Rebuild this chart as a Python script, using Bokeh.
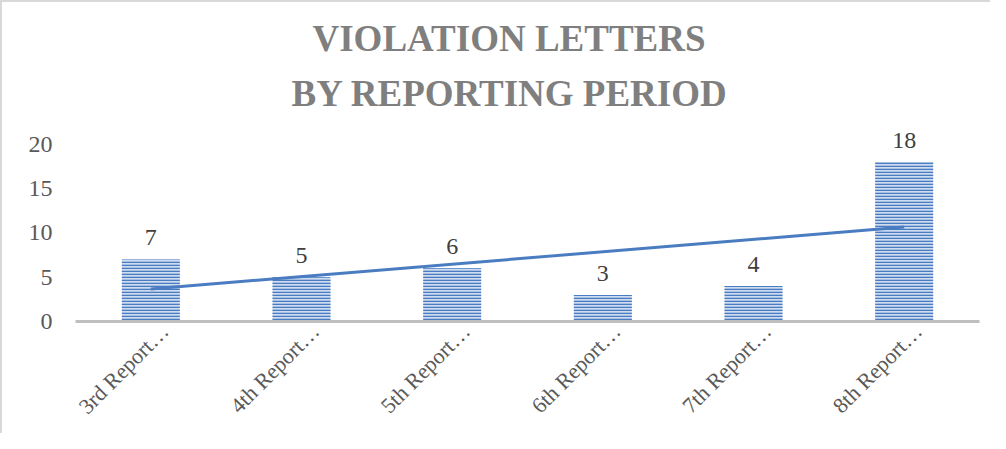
import numpy as np
from bokeh.plotting import figure
from bokeh.models import (ColumnDataSource, Title, FixedTicker, LabelSet, Range1d,
                          LinearAxis)
from bokeh.embed import file_html
from bokeh.resources import INLINE
from math import pi

categories = ["3rd Report…", "4th Report…", "5th Report…", "6th Report…", "7th Report…", "8th Report…"]
letters = [7, 5, 6, 3, 4, 18]
y_ticks = [0, 5, 10, 15, 20]

idx = list(range(len(categories)))

# linear trendline derived from the bar values
slope, intercept = np.polyfit(idx, letters, 1)
trend = [slope * x + intercept for x in idx]

src = ColumnDataSource(dict(x=idx, cat=categories, val=letters, lab=[str(v) for v in letters]))

p = figure(width=990, height=433, x_range=Range1d(-0.5, len(categories) - 0.5),
           y_range=Range1d(0, 22), x_axis_type=None,
           output_backend="svg", toolbar_location=None,
           min_border_left=73, min_border_right=13, min_border_bottom=114, min_border_top=124)
p.styles = {"border-left": "2px solid #d9d9d9", "border-top": "2px solid #d9d9d9"}

p.vbar(x="x", top="val", width=0.385, source=src, fill_color="#cfdcf0",
       hatch_pattern="horizontal_line", hatch_color="#4a7cc1", hatch_scale=3,
       hatch_weight=1.6, line_color=None)

p.line(x=[idx[0], idx[-1]], y=[trend[0], trend[-1]],
       line_color="#4a7cc1", line_width=3)

labels = LabelSet(x="x", y="val", text="lab", source=src, text_align="center",
                  text_baseline="bottom", y_offset=14, text_font="Liberation Serif",
                  text_font_size="24px", text_color="#404040")
p.add_layout(labels)

p.add_layout(Title(text="BY REPORTING PERIOD", align="left", text_font="Liberation Serif",
                   text_font_size="37px", text_font_style="bold", text_color="#7f7f7f",
                   offset=216, standoff=25), "above")
p.add_layout(Title(text="VIOLATION LETTERS", align="left", text_font="Liberation Serif",
                   text_font_size="37px", text_font_style="bold", text_color="#7f7f7f",
                   offset=237, standoff=0), "above")

p.xgrid.visible = False
p.ygrid.visible = False
p.outline_line_color = None

p.yaxis.ticker = FixedTicker(ticks=y_ticks)
p.yaxis.axis_line_color = None
p.yaxis.major_tick_line_color = None
p.yaxis.minor_tick_line_color = None
p.yaxis.major_label_text_font = "Liberation Serif"
p.yaxis.major_label_text_font_size = "24px"
p.yaxis.major_label_text_color = "#595959"
p.yaxis.major_label_standoff = 17

# category axis: label positions shifted slightly right like the original
shift = 0.093
p.extra_x_ranges = {"lab": Range1d(-0.5 - shift, len(categories) - 0.5 - shift)}
xax = LinearAxis(x_range_name="lab", ticker=FixedTicker(ticks=idx),
                 major_label_overrides={i: c for i, c in enumerate(categories)})
xax.axis_line_color = "#bfbfbf"
xax.axis_line_width = 3
xax.major_tick_line_color = None
xax.minor_tick_line_color = None
xax.major_label_orientation = pi / 4
xax.major_label_text_font = "Liberation Serif"
xax.major_label_text_font_size = "22px"
xax.major_label_text_color = "#595959"
xax.major_label_standoff = 0
p.add_layout(xax, "below")

open("out.html", "w").write(file_html(p, INLINE))
